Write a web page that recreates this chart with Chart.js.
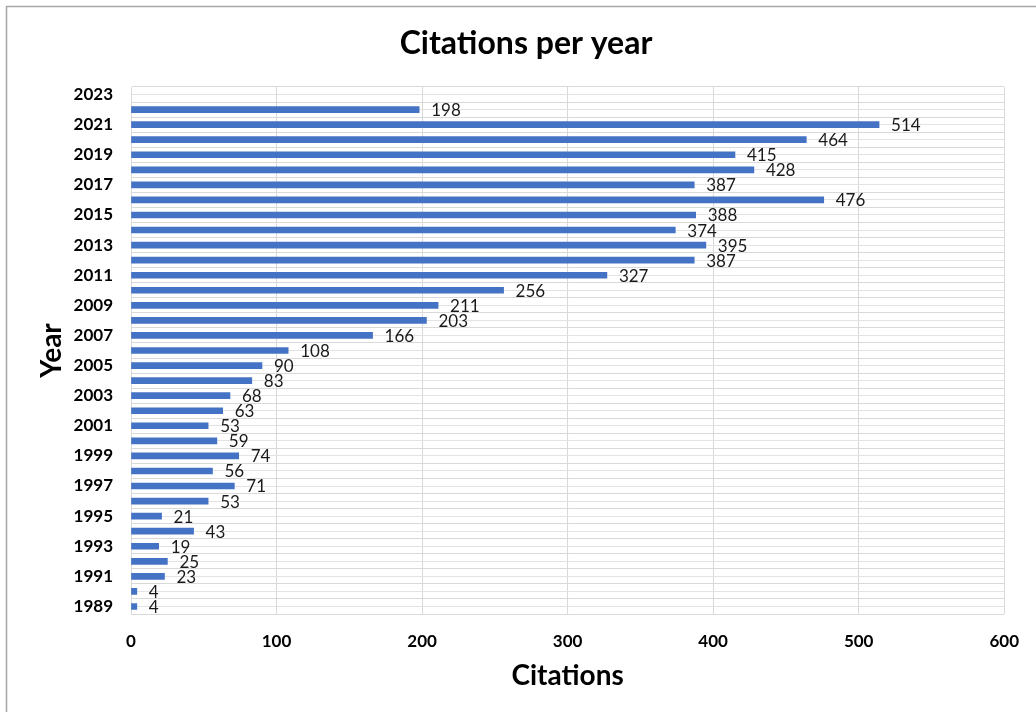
<!DOCTYPE html>
<html>
<head>
<meta charset="utf-8">
<script src="https://cdn.jsdelivr.net/npm/chart.js@4/dist/chart.umd.min.js"></script>
<style>
  html, body { margin: 0; padding: 0; background: #fff; }
  #wrap { width: 1036px; height: 712px; position: relative; }
</style>
</head>
<body>
<div id="wrap"><canvas id="c" width="1036" height="712"></canvas></div>
<script>
// ---- data ----
const years = ["1989","1990","1991","1992","1993","1994","1995","1996","1997","1998","1999","2000","2001","2002","2003","2004","2005","2006","2007","2008","2009","2010","2011","2012","2013","2014","2015","2016","2017","2018","2019","2020","2021","2022","2023"];
const citations = [4,4,23,25,19,43,21,53,71,56,74,59,53,63,68,83,90,108,166,203,211,256,327,387,395,374,388,476,387,428,415,464,514,198,null];
const xTicks = [0,100,200,300,400,500,600];
const titleText = "Citations per year";
const xTitle = "Citations";
const yTitle = "Year";

const FONT = "Lato, 'Open Sans', sans-serif";
const GRID = "#d9d9d9";

const framePlugin = {
  id: 'frame',
  beforeDraw(chart) {
    const ctx = chart.ctx;
    ctx.save();
    ctx.fillStyle = '#fff';
    ctx.fillRect(0, 0, chart.width, chart.height);
    ctx.strokeStyle = '#a6a6a6';
    ctx.lineWidth = 1.5;
    ctx.strokeRect(6.5, 6.5, 1200, 900);
    // chart title
    ctx.fillStyle = '#000';
    ctx.font = "bold 32px " + FONT;
    ctx.textAlign = 'center';
    ctx.textBaseline = 'middle';
    ctx.fillText(titleText, 526, 44);
    ctx.restore();
  }
};

const labelPlugin = {
  id: 'barLabels',
  afterDatasetsDraw(chart) {
    const ctx = chart.ctx;
    const meta = chart.getDatasetMeta(0);
    const data = chart.data.datasets[0].data;
    ctx.save();
    ctx.font = "17px " + FONT;
    ctx.fillStyle = '#1a1a1a';
    ctx.textAlign = 'left';
    ctx.textBaseline = 'middle';
    meta.data.forEach((el, i) => {
      const v = data[i];
      if (v === null || v === undefined) return;
      ctx.fillText(String(v), el.x + 12, el.y + 1);
    });
    ctx.restore();
  }
};

new Chart(document.getElementById('c'), {
  type: 'bar',
  data: {
    labels: years,
    datasets: [{
      data: citations,
      backgroundColor: '#4472C4',
      borderWidth: 0,
      barThickness: 6
    }]
  },
  options: {
    indexAxis: 'y',
    responsive: false,
    animation: false,
    layout: { padding: { left: 0, right: 30, top: 87, bottom: 0 } },
    plugins: {
      legend: { display: false },
      tooltip: { enabled: false },
      title: { display: false }
    },
    scales: {
      x: {
        type: 'linear',
        min: 0, max: 600,
        afterBuildTicks: s => { s.ticks = xTicks.map(v => ({ value: v })); },
        grid: { color: GRID, drawTicks: false },
        border: { display: false },
        ticks: { color: '#000', font: { family: FONT, size: 17, weight: 'bold' }, padding: 17 },
        title: {
          display: true, text: xTitle, color: '#000',
          font: { family: FONT, size: 28, weight: 'bold' },
          padding: { top: 0, bottom: 19 }
        },
        afterFit: s => { s.height = 98; }
      },
      y: {
        type: 'category',
        reverse: true,
        offset: true,
        grid: { color: GRID, drawTicks: false, offset: true },
        border: { display: true, color: GRID },
        ticks: {
          autoSkip: false,
          color: '#000',
          font: { family: FONT, size: 17, weight: 'bold' },
          padding: 18,
          callback: function(val, idx) { return idx % 2 === 0 ? this.getLabelForValue(val) : ''; }
        },
        title: {
          display: true, text: yTitle, color: '#000',
          font: { family: FONT, size: 28, weight: 'bold' },
          padding: { top: 35, bottom: 0 }
        },
        afterFit: s => { s.width = 131; }
      },
      yc: {
        type: 'category',
        labels: years,
        reverse: true,
        offset: true,
        position: 'left',
        grid: { color: '#e3e3e3', drawTicks: false, offset: false },
        border: { display: false },
        ticks: { display: false },
        afterFit: s => { s.width = 0; }
      }
    }
  },
  plugins: [framePlugin, labelPlugin]
});
</script>
</body>
</html>
